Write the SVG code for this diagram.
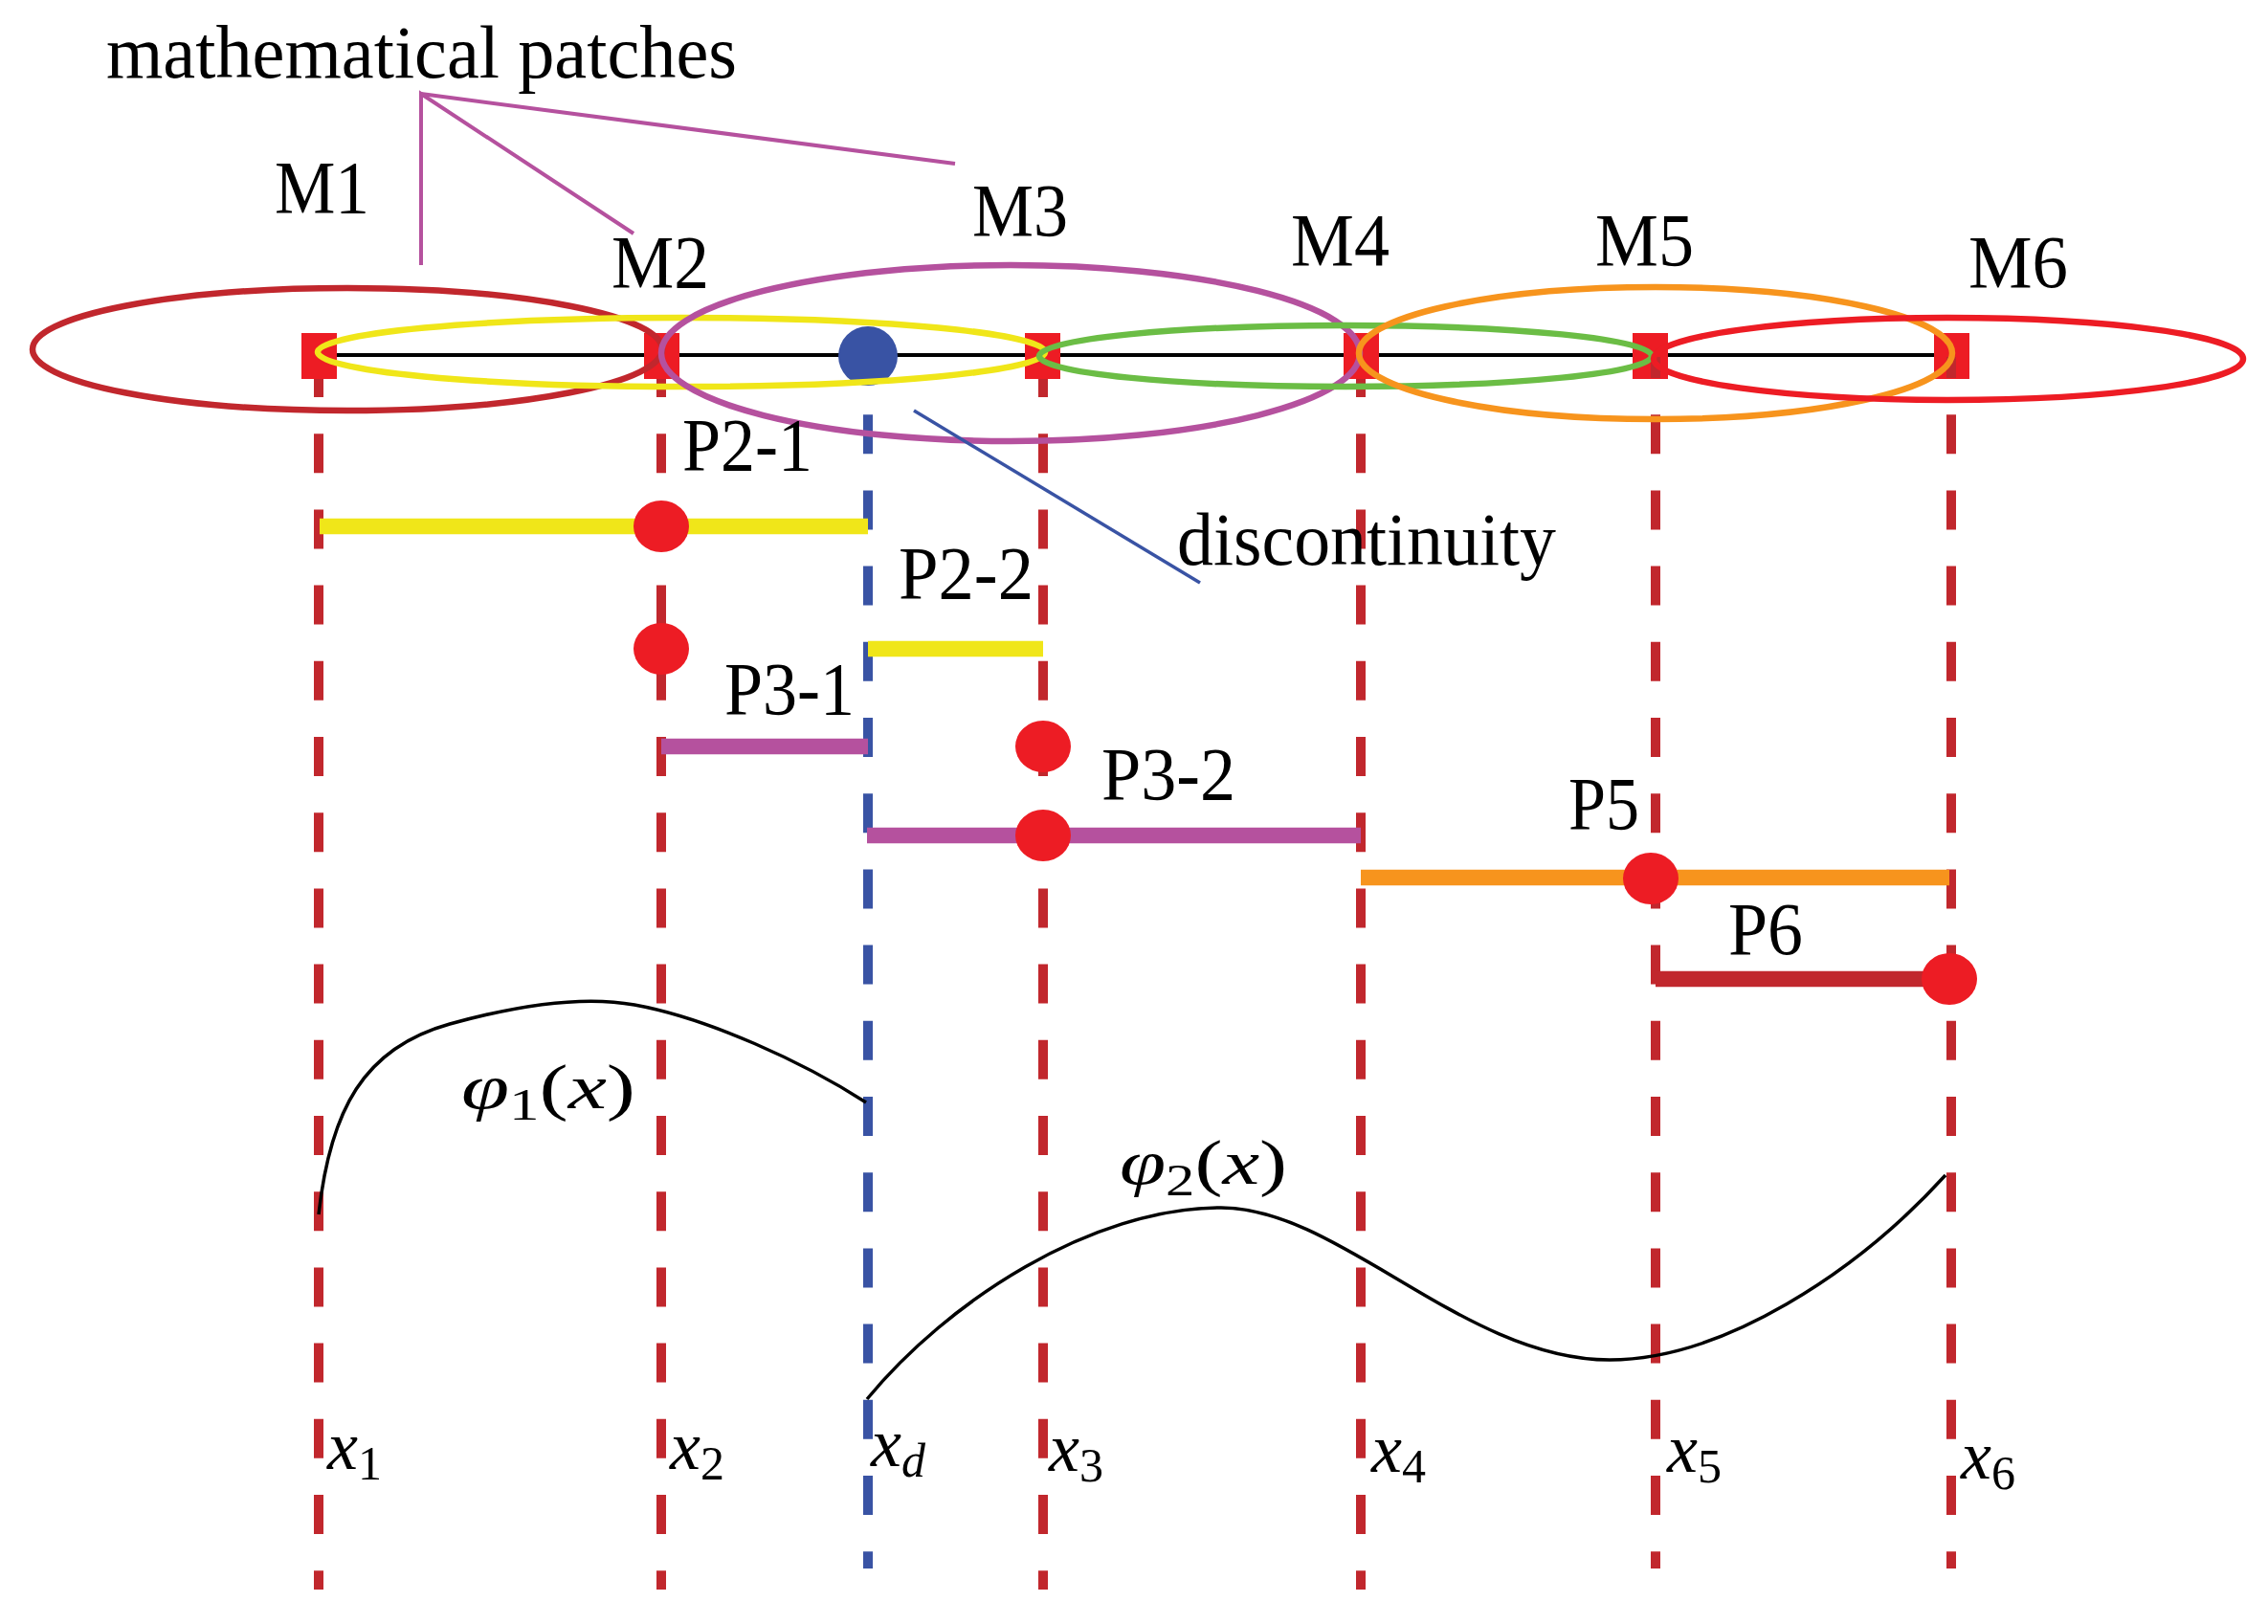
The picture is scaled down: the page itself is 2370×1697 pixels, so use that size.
<svg xmlns="http://www.w3.org/2000/svg" width="2370" height="1697" viewBox="0 0 2370 1697">
<style>
.t{font-family:"Liberation Serif","Times New Roman",serif;font-size:78px;fill:#000}
.m{font-family:"Liberation Serif","Times New Roman",serif;fill:#000}
.i{font-style:italic}
.dA{stroke:#c1272d;stroke-width:10;stroke-dasharray:41 38.2;stroke-dashoffset:22;fill:none}
.dB{stroke:#c1272d;stroke-width:10;stroke-dasharray:41 38.2;stroke-dashoffset:19;fill:none}
.blue{stroke:#3953a4}
.sq{fill:#ed1c24}
.el{fill:none;stroke-width:6.5}
.bar{stroke-width:16.5;fill:none}
.dot{fill:#ed1c24}
.ptr{stroke:#b5519e;stroke-width:4;fill:none}
.curve{stroke:#000;stroke-width:3.5;fill:none}
</style>
<rect width="2370" height="1697" fill="#fff"/>

<g id="axis">
<line x1="333" y1="371" x2="2040" y2="371" stroke="#000" stroke-width="4"/>
</g>

<g id="grid-lines">
<line class="dA" x1="333" y1="396" x2="333" y2="1661"/>
<line class="dA" x1="691" y1="396" x2="691" y2="1661"/>
<line class="dA" x1="1090" y1="396" x2="1090" y2="1661"/>
<line class="dA" x1="1422" y1="396" x2="1422" y2="1661"/>
<line class="dB blue" x1="907" y1="373" x2="907" y2="1639"/>
</g>

<g id="nodes-squares">
<rect class="sq" x="315" y="348" width="37" height="48"/>
<rect class="sq" x="673" y="348" width="37" height="48"/>
<rect class="sq" x="1071" y="348" width="37" height="48"/>
<rect class="sq" x="1404" y="348" width="37" height="48"/>
<rect class="sq" x="1706" y="348" width="37" height="48"/>
<rect class="sq" x="2021" y="348" width="37" height="48"/>
</g>

<g id="grid-lines-b">
<line class="dB" x1="1730" y1="373" x2="1730" y2="1639"/>
<line class="dB" x1="2039" y1="373" x2="2039" y2="1639"/>
</g>

<g id="discontinuity-point">
<circle cx="907" cy="372" r="31" fill="#3953a4"/>
</g>

<g id="M1"><ellipse class="el" cx="363" cy="365" rx="329" ry="64" stroke="#c1272d"/><text class="t" x="287" y="222" textLength="99" lengthAdjust="spacingAndGlyphs">M1</text></g>
<g id="M2"><ellipse class="el" cx="712" cy="368" rx="380" ry="36" stroke="#f0e619"/><text class="t" x="639" y="300" textLength="102" lengthAdjust="spacingAndGlyphs">M2</text></g>
<g id="M3"><ellipse class="el" cx="1056" cy="369" rx="365" ry="92" stroke="#b5519e"/><text class="t" x="1016" y="246" textLength="100" lengthAdjust="spacingAndGlyphs">M3</text></g>
<g id="M4"><ellipse class="el" cx="1406" cy="372" rx="320" ry="32" stroke="#6bbd45"/><text class="t" x="1349" y="277" textLength="103" lengthAdjust="spacingAndGlyphs">M4</text></g>
<g id="M5"><ellipse class="el" cx="1730" cy="369" rx="310" ry="69" stroke="#f7941d"/><text class="t" x="1667" y="277" textLength="103" lengthAdjust="spacingAndGlyphs">M5</text></g>
<g id="M6"><ellipse class="el" cx="2036" cy="375" rx="308" ry="43" stroke="#ed1c24" stroke-width="7.5"/><text class="t" x="2057" y="300" textLength="104" lengthAdjust="spacingAndGlyphs">M6</text></g>

<g id="label-patches"><text class="t" x="111" y="81" textLength="659" lengthAdjust="spacingAndGlyphs">mathematical patches</text></g>
<g id="label-discontinuity"><text class="t" x="1230" y="590" textLength="396" lengthAdjust="spacingAndGlyphs">discontinuity</text></g>

<g id="connectors">
<polyline class="ptr" points="440,277 440,98 662,244"/>
<line class="ptr" x1="440" y1="98" x2="998" y2="171"/>
<line x1="955" y1="429" x2="1254" y2="609" stroke="#3953a4" stroke-width="3.5"/>
</g>

<g id="P2-1"><line class="bar" x1="334" y1="550" x2="907" y2="550" stroke="#f0e619"/><ellipse class="dot" cx="691" cy="550" rx="29" ry="27"/><text class="t" x="713" y="491" textLength="136" lengthAdjust="spacingAndGlyphs">P2-1</text></g>
<g id="P2-2"><line class="bar" x1="907" y1="678" x2="1090" y2="678" stroke="#f0e619"/><ellipse class="dot" cx="691" cy="678" rx="29" ry="27"/><text class="t" x="939" y="625" textLength="141" lengthAdjust="spacingAndGlyphs">P2-2</text></g>
<g id="P3-1"><line class="bar" x1="691" y1="780" x2="907" y2="780" stroke="#b5519e"/><ellipse class="dot" cx="1090" cy="780" rx="29" ry="27"/><text class="t" x="757" y="746" textLength="136" lengthAdjust="spacingAndGlyphs">P3-1</text></g>
<g id="P3-2"><line class="bar" x1="906" y1="873" x2="1422" y2="873" stroke="#b5519e"/><ellipse class="dot" cx="1090" cy="873" rx="29" ry="27"/><text class="t" x="1151" y="835" textLength="140" lengthAdjust="spacingAndGlyphs">P3-2</text></g>
<g id="P5"><line class="bar" x1="1422" y1="917" x2="2037" y2="917" stroke="#f7941d" stroke-width="17"/><ellipse class="dot" cx="1725" cy="918" rx="29" ry="27"/><text class="t" x="1639" y="866" textLength="74" lengthAdjust="spacingAndGlyphs">P5</text></g>
<g id="P6"><line class="bar" x1="1730" y1="1023" x2="2037" y2="1023" stroke="#c1272d" stroke-width="17"/><ellipse class="dot" cx="2037" cy="1023" rx="29" ry="27"/><text class="t" x="1806" y="997" textLength="78" lengthAdjust="spacingAndGlyphs">P6</text></g>

<g id="phi1">
<path class="curve" d="M333,1269 C345,1160 380,1095 470,1070 C560,1045 620,1042 663,1050 C740,1064 840,1110 905,1152"/>
<text class="m" x="482" y="1158" font-size="66" textLength="182" lengthAdjust="spacingAndGlyphs"><tspan class="i">φ</tspan><tspan font-size="46" dy="12">1</tspan><tspan dy="-12">(</tspan><tspan class="i">x</tspan>)</text>
</g>
<g id="phi2">
<path class="curve" d="M906,1462 C990,1360 1140,1262 1276,1262 C1400,1262 1530,1421 1682,1421 C1800,1421 1940,1330 2033,1228"/>
<text class="m" x="1170" y="1237" font-size="66" textLength="175" lengthAdjust="spacingAndGlyphs"><tspan class="i">φ</tspan><tspan font-size="46" dy="12">2</tspan><tspan dy="-12">(</tspan><tspan class="i">x</tspan>)</text>
</g>

<g id="x-labels">
<text class="m" x="342" y="1535" font-size="72"><tspan class="i">x</tspan><tspan font-size="50" dy="11">1</tspan></text>
<text class="m" x="700" y="1535" font-size="72"><tspan class="i">x</tspan><tspan font-size="50" dy="11">2</tspan></text>
<text class="m" x="910" y="1532" font-size="72"><tspan class="i">x</tspan><tspan class="i" font-size="50" dy="11">d</tspan></text>
<text class="m" x="1096" y="1537" font-size="72"><tspan class="i">x</tspan><tspan font-size="50" dy="11">3</tspan></text>
<text class="m" x="1433" y="1538" font-size="72"><tspan class="i">x</tspan><tspan font-size="50" dy="11">4</tspan></text>
<text class="m" x="1742" y="1538" font-size="72"><tspan class="i">x</tspan><tspan font-size="50" dy="11">5</tspan></text>
<text class="m" x="2049" y="1545" font-size="72"><tspan class="i">x</tspan><tspan font-size="50" dy="11">6</tspan></text>
</g>
</svg>
